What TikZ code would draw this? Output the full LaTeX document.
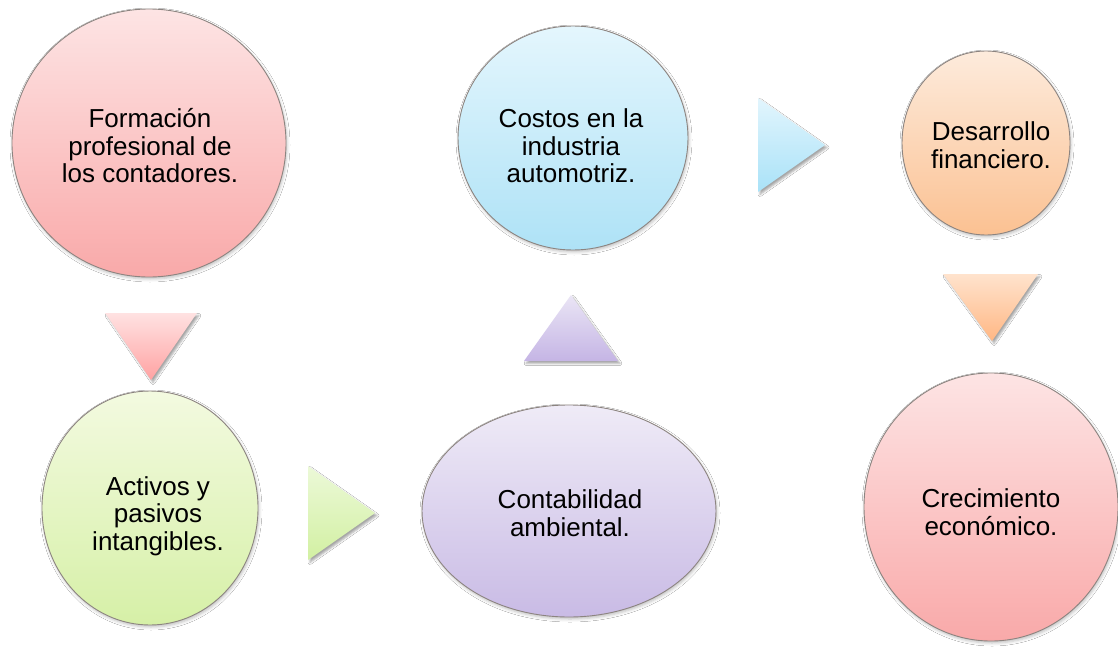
\documentclass[tikz,border=0pt]{standalone}
\usepackage{fontspec}
\setmainfont{Liberation Sans}
\usetikzlibrary{shapes.geometric,shadows.blur}
\definecolor{bordc}{HTML}{8C8480}
\definecolor{pinkT}{HTML}{FDE4E4}
\definecolor{pinkB}{HTML}{F9A9A9}
\definecolor{greenT}{HTML}{F3FAE0}
\definecolor{greenB}{HTML}{D6F0A7}
\definecolor{purpT}{HTML}{EFEBF7}
\definecolor{purpB}{HTML}{C9BBE5}
\definecolor{blueT}{HTML}{E4F6FD}
\definecolor{blueB}{HTML}{AEE2F6}
\definecolor{oranT}{HTML}{FDEBDC}
\definecolor{oranB}{HTML}{FBC192}
\definecolor{tpinkT}{HTML}{FFE2E2}
\definecolor{tpinkB}{HTML}{FFA2A2}
\definecolor{tgreenT}{HTML}{ECF9D8}
\definecolor{tgreenB}{HTML}{D2F0A2}
\definecolor{tblueT}{HTML}{E2F5FD}
\definecolor{tblueB}{HTML}{A9E2F8}
\definecolor{tpurpT}{HTML}{EAE5F5}
\definecolor{tpurpB}{HTML}{C5B5E5}
\definecolor{toranT}{HTML}{FFE3CD}
\definecolor{toranB}{HTML}{FFB784}
\tikzset{
  bub/.style={ellipse, draw=bordc, line width=0.9pt, inner sep=0pt,
    blur shadow={shadow xshift=1pt, shadow yshift=-2pt, shadow opacity=25, shadow blur radius=3pt}},
  txt/.style={align=center, inner sep=0pt, font=\fontsize{26}{27.5}\selectfont},
  tri/.style={draw=none,
    blur shadow={shadow xshift=2pt, shadow yshift=-2.5pt, shadow opacity=35, shadow blur radius=2pt}}
}
\begin{document}
\begin{tikzpicture}[x=1pt,y=-1pt]
\useasboundingbox[fill=white] (0,0) rectangle (1118,650);

% triangles (arrows)
\path[tri, top color=tpinkT, bottom color=tpinkB] (105,313) -- (197,313) -- (151,380) -- cycle;
\path[tri, top color=tgreenT, bottom color=tgreenB] (308,466) -- (375,513) -- (308,560) -- cycle;
\path[tri, top color=tblueT, bottom color=tblueB] (758,98) -- (825,145) -- (758,192) -- cycle;
\path[tri, top color=tpurpT, bottom color=tpurpB] (524,361) -- (571,295) -- (618,361) -- cycle;
\path[tri, top color=toranT, bottom color=toranB] (943,274) -- (1038,274) -- (992,341) -- cycle;

% bubbles
\node[bub, minimum width=274pt, minimum height=268pt, top color=pinkT, bottom color=pinkB]
  (formacion) at (149,143) {};
\node[bub, minimum width=216pt, minimum height=234pt, top color=greenT, bottom color=greenB]
  (activos) at (150,508) {};
\node[bub, minimum width=294pt, minimum height=212pt, top color=purpT, bottom color=purpB]
  (contab) at (569,511) {};
\node[bub, minimum width=230pt, minimum height=224pt, top color=blueT, bottom color=blueB]
  (costos) at (573,138) {};
\node[bub, minimum width=168pt, minimum height=184pt, top color=oranT, bottom color=oranB]
  (desarrollo) at (986,143) {};
\node[bub, minimum width=254pt, minimum height=268pt, top color=pinkT, bottom color=pinkB]
  (crecim) at (991,507) {};

% texts
\node[txt] (formacionT) at (150,146) {Formación\\profesional de\\los contadores.};
\node[txt] (activosT) at (158,516) {Activos y\\pasivos\\intangibles.};
\node[txt] (contabT) at (570,513) {Contabilidad\\ambiental.};
\node[txt] (costosT) at (571,146) {Costos en la\\industria\\automotriz.};
\node[txt] (desarrolloT) at (991,145) {Desarrollo\\financiero.};
\node[txt] (crecimT) at (991,512) {Crecimiento\\económico.};
\end{tikzpicture}
\end{document}
